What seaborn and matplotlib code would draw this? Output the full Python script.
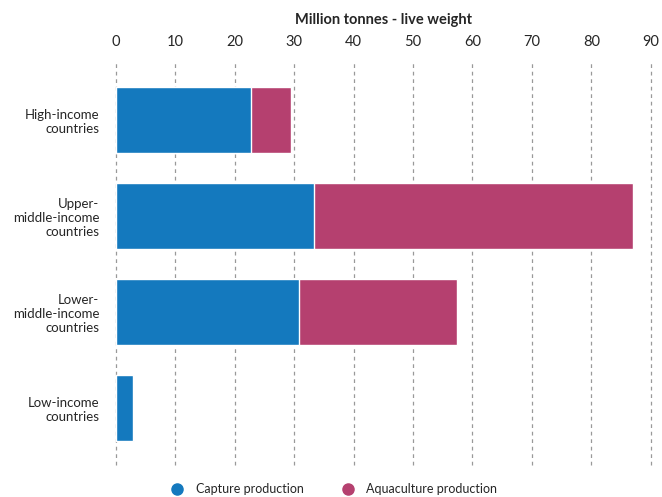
import matplotlib.pyplot as plt
import pandas as pd
import seaborn as sns
from matplotlib.lines import Line2D

# values (million tonnes, live weight)
groups = [
    "High-income\ncountries",
    "Upper-\nmiddle-income\ncountries",
    "Lower-\nmiddle-income\ncountries",
    "Low-income\ncountries",
]
capture = [22.7, 33.3, 30.8, 2.9]
aquaculture = [6.7, 53.7, 26.6, 0.2]
x_ticks = [0, 10, 20, 30, 40, 50, 60, 70, 80, 90]

blue = "#1479be"
magenta = "#b5406f"

df = pd.DataFrame({"group": groups, "capture": capture, "aquaculture": aquaculture})
df["total"] = df["capture"] + df["aquaculture"]

sns.set_style("white")
plt.rcParams["font.family"] = ["Lato", "DejaVu Sans"]

fig = plt.figure(figsize=(6.62, 4.97), dpi=100)
ax = fig.add_axes([0.175, 0.064, 0.808, 0.809])

# stacked bars: draw totals first, capture on top
sns.barplot(data=df, y="group", x="total", color=magenta, orient="h",
            width=0.69, edgecolor="white", linewidth=1, saturation=1, ax=ax)
sns.barplot(data=df, y="group", x="capture", color=blue, orient="h",
            width=0.69, edgecolor="white", linewidth=1, saturation=1, ax=ax)

ax.set_xlim(0, 90)
ax.set_ylim(3.594, -0.594)
ax.set_xticks(x_ticks)
ax.xaxis.tick_top()
ax.xaxis.set_label_position("top")
ax.set_xlabel("Million tonnes - live weight", fontsize=10.5, fontweight="bold", labelpad=8)
ax.set_ylabel("")
ax.tick_params(axis="x", length=0, labelsize=10.5, pad=10)
ax.tick_params(axis="y", length=0, labelsize=9.5, pad=12)
for lbl in ax.get_yticklabels():
    lbl.set_multialignment("right")

ax.set_axisbelow(True)
ax.grid(axis="x", color="#999999", linestyle=(0, (3, 3)), linewidth=0.9)
for gl in ax.get_xgridlines():
    gl.set_clip_on(False)
ax.grid(axis="y", visible=False)
sns.despine(ax=ax, left=True, bottom=True, top=True, right=True)

handles = [
    Line2D([], [], marker="o", linestyle="", markersize=8, color=blue, label="Capture production"),
    Line2D([], [], marker="o", linestyle="", markersize=8, color=magenta, label="Aquaculture production"),
]
fig.legend(handles=handles, loc="center", bbox_to_anchor=(0.5, 0.016), ncol=2,
           frameon=False, fontsize=9, handletextpad=0.5, columnspacing=2.5)

fig.savefig("out.png", dpi=100)
